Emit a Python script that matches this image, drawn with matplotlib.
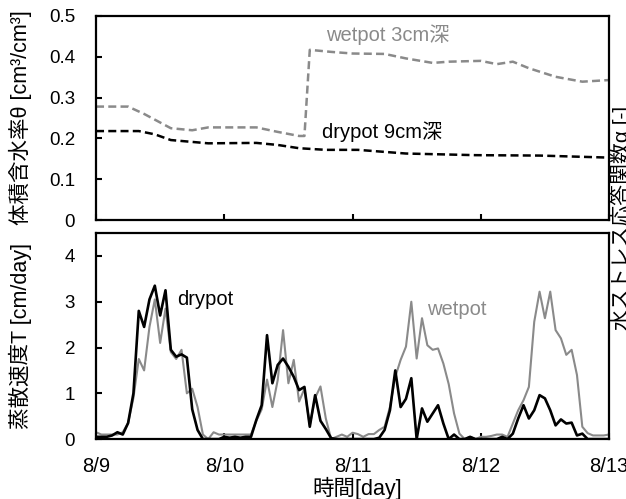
import numpy as np
import matplotlib
matplotlib.use("Agg")
import matplotlib.pyplot as plt

plt.rcParams['font.family'] = ['Liberation Sans', 'Noto Sans CJK JP', 'DejaVu Sans']

# --- data (hours from 8/9 0:00) ---
day_labels = ['8/9', '8/10', '8/11', '8/12', '8/13']

# top panel: volumetric water content
wet_theta_h = [0, 6, 9, 14, 18, 21, 30, 34, 38, 39, 40, 44, 48, 54, 58, 63, 66, 72, 75, 78, 81, 86, 91, 96]
wet_theta = [0.278, 0.278, 0.26, 0.225, 0.22, 0.227, 0.227, 0.216, 0.206, 0.206,
             0.417, 0.412, 0.408, 0.407, 0.396, 0.385, 0.388, 0.39, 0.382, 0.388,
             0.372, 0.351, 0.339, 0.343]
dry_theta_h = [0, 8, 11, 14, 21, 30, 34, 38, 43, 49, 58, 71, 83, 96]
dry_theta = [0.218, 0.218, 0.21, 0.196, 0.188, 0.189, 0.184, 0.176, 0.172, 0.172,
             0.163, 0.159, 0.158, 0.153]

# bottom panel: transpiration rate, hourly h0..h96
dry_T = [0.05, 0.05, 0.05, 0.08, 0.15, 0.1, 0.35, 1.0, 2.8, 2.45, 3.05, 3.35,
         2.7, 3.25, 1.95, 1.8, 1.85, 1.78, 0.65, 0.2, 0.0, 0.0, 0.0, 0.0,
         0.05, 0.03, 0.05, 0.03, 0.05, 0.05, 0.42, 0.74, 2.27, 1.22, 1.62, 1.76,
         1.58, 1.36, 1.07, 1.14, 0.27, 0.96, 0.4, 0.22, 0.02, 0.0, 0.0, 0.0,
         0.0, 0.0, 0.0, 0.0, 0.0, 0.03, 0.2, 0.63, 1.5, 0.7, 0.88, 1.33,
         0.0, 0.67, 0.38, 0.56, 0.74, 0.34, 0.0, 0.1, 0.0, 0.0, 0.05, 0.0,
         0.0, 0.0, 0.0, 0.0, 0.05, 0.0, 0.12, 0.45, 0.74, 0.45, 0.63, 0.96,
         0.89, 0.63, 0.3, 0.43, 0.34, 0.36, 0.08, 0.12, 0.0, 0.0, 0.0, 0.0, 0.0]
wet_T = [0.15, 0.1, 0.1, 0.1, 0.1, 0.15, 0.35, 0.9, 1.75, 1.5, 2.45, 3.05,
         2.1, 2.85, 1.9, 1.75, 1.95, 1.0, 1.1, 0.7, 0.1, 0.0, 0.15, 0.1,
         0.1, 0.1, 0.1, 0.1, 0.1, 0.1, 0.4, 0.65, 1.3, 0.7, 1.29, 2.38,
         1.22, 1.73, 0.82, 1.1, 0.3, 0.9, 1.15, 0.45, 0.0, 0.05, 0.1, 0.05,
         0.14, 0.11, 0.05, 0.11, 0.11, 0.2, 0.27, 0.7, 1.36, 1.73, 2.02, 3.0,
         1.76, 2.64, 2.05, 1.95, 1.98, 1.65, 1.2, 0.56, 0.12, 0.0, 0.05, 0.0,
         0.05, 0.05, 0.07, 0.1, 0.1, 0.05, 0.34, 0.63, 0.85, 1.14, 2.56, 3.22,
         2.64, 3.22, 2.38, 2.2, 1.84, 1.95, 1.4, 0.27, 0.13, 0.08, 0.08, 0.08, 0.1]

gray = '#8a8a8a'

fig = plt.figure(figsize=(6.26, 4.99), dpi=100)
ax1 = fig.add_axes([0.1534, 0.559, 0.8195, 0.409])
ax2 = fig.add_axes([0.1534, 0.120, 0.8195, 0.413])

# top
ax1.plot(np.array(wet_theta_h) / 24, wet_theta, color=gray, lw=1.8, dashes=(3.2, 1.7))
ax1.plot(np.array(dry_theta_h) / 24, dry_theta, color='black', lw=1.8, dashes=(3.2, 1.7))
ax1.set_xlim(0, 4)
ax1.set_ylim(0, 0.5)
ax1.set_yticks([0, 0.1, 0.2, 0.3, 0.4, 0.5])
ax1.set_yticklabels(['0', '0.1', '0.2', '0.3', '0.4', '0.5'])
ax1.set_xticks(range(5))
ax1.set_xticklabels([])
ax1.set_ylabel('体積含水率θ [cm³/cm³]', fontsize=15.5)
ax1.yaxis.set_label_coords(-0.125, 0.5)
ax1.text(1.79, 0.453, 'wetpot 3cm深', color=gray, fontsize=14.5, va='center', ha='left')
ax1.text(1.76, 0.216, 'drypot 9cm深', color='black', fontsize=14.5, va='center', ha='left')

# bottom
hours = np.arange(len(dry_T))
ax2.plot(hours / 24, wet_T, color=gray, lw=1.5)
ax2.plot(hours / 24, dry_T, color='black', lw=1.9)
ax2.set_xlim(0, 4)
ax2.set_ylim(0, 4.5)
ax2.set_yticks([0, 1, 2, 3, 4])
ax2.set_xticks(range(5))
ax2.set_xticklabels(day_labels)
ax2.set_ylabel('蒸散速度T [cm/day]', fontsize=15.5)
ax2.yaxis.set_label_coords(-0.125, 0.5)
ax2.set_xlabel('時間[day]', fontsize=15.5)
ax2.xaxis.set_label_coords(0.51, -0.185)
ax2.text(0.63, 3.05, 'drypot', color='black', fontsize=14.5, va='center', ha='left')
ax2.text(2.58, 2.82, 'wetpot', color=gray, fontsize=14.5, va='center', ha='left')

for ax in (ax1, ax2):
    for s in ax.spines.values():
        s.set_linewidth(1.6)
    ax.tick_params(direction='in', length=4, width=1.5, top=False, right=False)
    ax.tick_params(axis='y', labelsize=13.5, pad=15)
    ax.tick_params(axis='x', labelsize=14.5, pad=13)

# right-side label (partly cut off at the figure edge)
fig.text(0.992, 0.564, '水ストレス応答関数α [-]', rotation=90, fontsize=15,
         va='center', ha='center')

fig.savefig('out.png', dpi=100)
